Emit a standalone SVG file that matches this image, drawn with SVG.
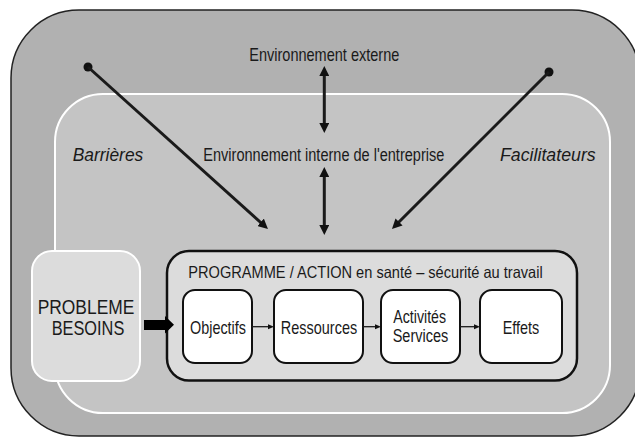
<svg xmlns="http://www.w3.org/2000/svg" width="635" height="437" viewBox="0 0 635 437">
<defs>
<style>
text{font-family:"Liberation Sans",Arial,sans-serif;fill:#1a1a1a}
.it{font-style:italic}
.conn{stroke:#1a1a1a;fill:none}
.box{fill:#ffffff;stroke:#111;stroke-width:2}
</style>
<marker id="ah" markerUnits="userSpaceOnUse" markerWidth="10" markerHeight="10" refX="4" refY="5" orient="auto-start-reverse" viewBox="0 0 10 10">
<path d="M0,0 L10,5 L0,10 z" fill="#111"/>
</marker>
<marker id="sa" markerUnits="userSpaceOnUse" markerWidth="6" markerHeight="6" refX="3" refY="3" orient="auto" viewBox="0 0 6 6">
<path d="M0,0.5 L6,3 L0,5.5 z" fill="#111"/>
</marker>
</defs>
<rect width="635" height="437" fill="#ffffff"/>
<g id="outer">
<rect x="11" y="10" width="629" height="426" rx="68" ry="68" fill="#b1b1b1" stroke="#222" stroke-width="1.5"/>
<text x="324.3" y="60.5" font-size="18.5" text-anchor="middle" textLength="150" lengthAdjust="spacingAndGlyphs">Environnement externe</text>
</g>
<g id="inner">
<rect x="55" y="94" width="555" height="319" rx="48" ry="48" fill="#c4c4c4" stroke="#ffffff" stroke-width="2"/>
<text x="323.8" y="161" font-size="17.5" text-anchor="middle" textLength="241" lengthAdjust="spacingAndGlyphs">Environnement interne de l'entreprise</text>
<text class="it" x="72.7" y="161" font-size="17.5" textLength="70.6" lengthAdjust="spacingAndGlyphs">Barrières</text>
<text class="it" x="500" y="161" font-size="17.5" textLength="95.7" lengthAdjust="spacingAndGlyphs">Facilitateurs</text>
</g>
<g id="probleme">
<rect x="32" y="251" width="108" height="130" rx="20" ry="20" fill="#dcdcdc" stroke="#ffffff" stroke-width="2"/>
<text x="86" y="314" font-size="20.5" text-anchor="middle" textLength="96.7" lengthAdjust="spacingAndGlyphs">PROBLEME</text>
<text x="88" y="335" font-size="20.5" text-anchor="middle" textLength="72.6" lengthAdjust="spacingAndGlyphs">BESOINS</text>
</g>
<g id="programme">
<rect x="167" y="251" width="410" height="129.5" rx="22" ry="22" fill="#dcdcdc" stroke="#111" stroke-width="2.5"/>
<text x="188.3" y="278.3" font-size="16.5" textLength="354.4" lengthAdjust="spacingAndGlyphs">PROGRAMME / ACTION en santé – sécurité au travail</text>
</g>
<g id="objectifs">
<rect class="box" x="183" y="290" width="69" height="73" rx="12" ry="12"/>
<text x="218" y="334" font-size="18.5" text-anchor="middle" textLength="56" lengthAdjust="spacingAndGlyphs">Objectifs</text>
</g>
<g id="ressources">
<rect class="box" x="274" y="290" width="89" height="73" rx="12" ry="12"/>
<text x="319" y="334" font-size="18.5" text-anchor="middle" textLength="76.3" lengthAdjust="spacingAndGlyphs">Ressources</text>
</g>
<g id="activites">
<rect class="box" x="381" y="290" width="79" height="73" rx="12" ry="12"/>
<text x="419.7" y="323.3" font-size="18" text-anchor="middle" textLength="52.7" lengthAdjust="spacingAndGlyphs">Activités</text>
<text x="420.5" y="342.3" font-size="18" text-anchor="middle" textLength="55.6" lengthAdjust="spacingAndGlyphs">Services</text>
</g>
<g id="effets">
<rect class="box" x="480" y="290" width="82" height="73" rx="12" ry="12"/>
<text x="521" y="334" font-size="18.5" text-anchor="middle" textLength="36.6" lengthAdjust="spacingAndGlyphs">Effets</text>
</g>
<g id="connectors">
<line class="conn" x1="324.3" y1="72" x2="324.3" y2="127" stroke-width="3" marker-start="url(#ah)" marker-end="url(#ah)"/>
<line class="conn" x1="324.3" y1="173" x2="324.3" y2="229" stroke-width="3" marker-start="url(#ah)" marker-end="url(#ah)"/>
<circle cx="88" cy="67" r="4.5" fill="#111"/>
<line class="conn" x1="88" y1="67" x2="263.5" y2="225" stroke-width="3" marker-end="url(#ah)"/>
<circle cx="549" cy="72" r="4.5" fill="#111"/>
<line class="conn" x1="549" y1="72" x2="396.2" y2="224.8" stroke-width="3" marker-end="url(#ah)"/>
<polygon points="144,320 165,320 165,316 174,324.8 165,333.6 165,330 144,330" fill="#000"/>
<line class="conn" x1="252" y1="326.7" x2="271" y2="326.7" stroke-width="1.3" marker-end="url(#sa)"/>
<line class="conn" x1="363" y1="326.7" x2="378" y2="326.7" stroke-width="1.3" marker-end="url(#sa)"/>
<line class="conn" x1="460" y1="326.7" x2="477" y2="326.7" stroke-width="1.3" marker-end="url(#sa)"/>
</g>
</svg>
